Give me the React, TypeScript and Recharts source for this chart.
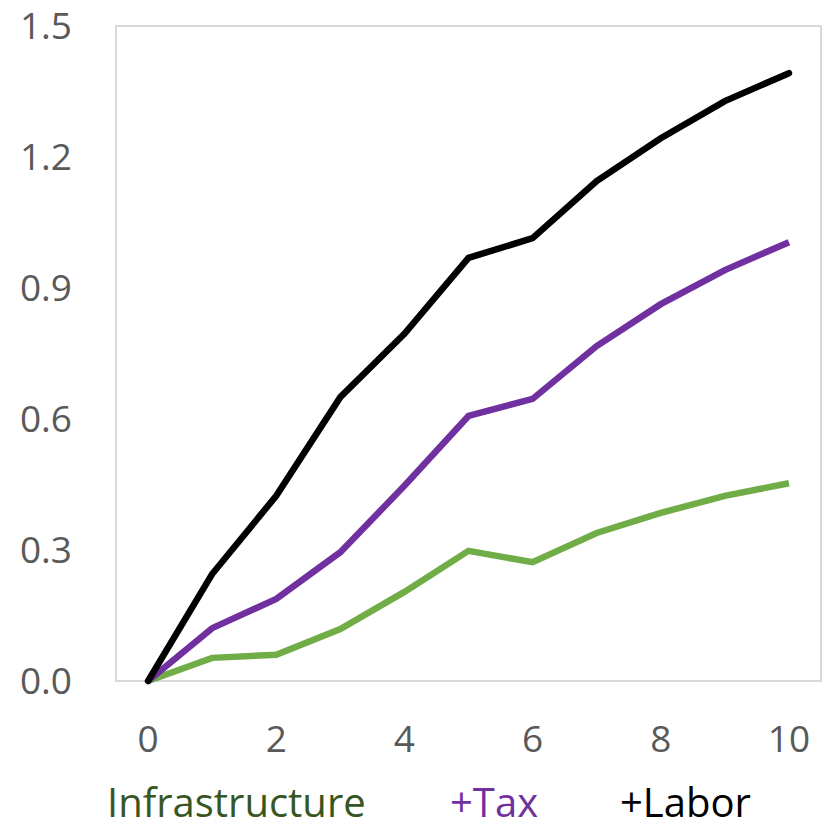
import { LineChart, Line, XAxis, YAxis, ReferenceArea } from "recharts"

// Cumulative effect by year, three stacked policy scenarios
const years = [0, 1, 2, 3, 4, 5, 6, 7, 8, 9, 10]
const infrastructure = [0, 0.053, 0.06, 0.119, 0.204, 0.298, 0.272, 0.339, 0.385, 0.424, 0.453]
const withTax = [0, 0.121, 0.188, 0.295, 0.447, 0.607, 0.646, 0.767, 0.863, 0.941, 1.005]
const withLabor = [0, 0.245, 0.424, 0.65, 0.795, 0.969, 1.014, 1.145, 1.243, 1.328, 1.392]

const xTicks = [0, 2, 4, 6, 8, 10]
const yTicks = [0, 0.3, 0.6, 0.9, 1.2, 1.5]

const data = years.map((year, i) => ({
  year,
  infrastructure: infrastructure[i],
  tax: withTax[i],
  labor: withLabor[i],
}))

const font = "'Open Sans', sans-serif"
const tickStyle = { fill: "#595959", fontSize: 37, fontFamily: font }

export default function App() {
  return (
    <div style={{ position: "fixed", left: 0, top: 0, width: 825, height: 832, background: "#fff" }}>
      <LineChart width={825} height={832} data={data} margin={{ top: 26, right: 4, left: 0, bottom: 72 }}>
        <XAxis
          dataKey="year"
          type="number"
          domain={[-0.5, 10.5]}
          ticks={xTicks}
          axisLine={false}
          tickLine={false}
          height={79}
          tick={tickStyle}
          dy={37}
        />
        <YAxis
          type="number"
          domain={[0, 1.5]}
          ticks={yTicks}
          tickFormatter={(v: number) => v.toFixed(1)}
          axisLine={false}
          tickLine={false}
          width={116}
          tick={tickStyle}
          dx={-36}
        />
        <ReferenceArea x1={-0.5} x2={10.5} y1={0} y2={1.5} fill="none" stroke="#d9d9d9" strokeWidth={2} />
        <Line type="linear" dataKey="infrastructure" stroke="#70ad47" strokeWidth={6.5} dot={false} isAnimationActive={false} />
        <Line type="linear" dataKey="tax" stroke="#7030a0" strokeWidth={6.5} dot={false} isAnimationActive={false} />
        <Line type="linear" dataKey="labor" stroke="#000000" strokeWidth={6.5} strokeLinecap="round" dot={false} isAnimationActive={false} />
      </LineChart>
      {/* legend: coloured labels only, no swatches */}
      <div style={{ position: "absolute", left: 0, top: 774, width: 825, height: 56, fontFamily: font, fontSize: 40, lineHeight: "56px" }}>
        <span style={{ position: "absolute", left: 107, top: 0, color: "#375623" }}>Infrastructure</span>
        <span style={{ position: "absolute", left: 450, top: 0, color: "#7030a0" }}>+Tax</span>
        <span style={{ position: "absolute", left: 620, top: 0, color: "#000000" }}>+Labor</span>
      </div>
    </div>
  )
}
